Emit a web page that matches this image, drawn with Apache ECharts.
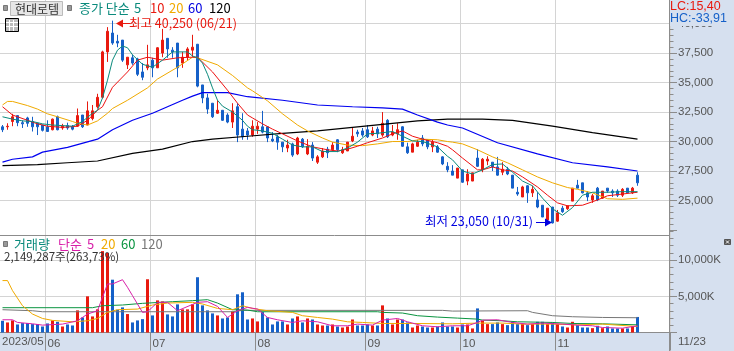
<!DOCTYPE html>
<html>
<head>
<meta charset="utf-8">
<style>
html, body { margin: 0; padding: 0; background: #d6e0ef; }
#chart { width: 734px; height: 351px; }
</style>
<script src="https://cdn.jsdelivr.net/npm/echarts@6/dist/echarts.min.js"></script>
</head>
<body>
<div id="chart"></div>
<script>
// [open, close, low, high]
var candles = [
	[31250,31000,30800,31400],[31250,31300,31000,31550],[31700,32100,31300,32350],[32200,31600,31300,32200],
	[31600,31500,31150,31800],[32000,31550,31250,32100],[31700,31250,30850,32100],[31550,31250,30550,31550],
	[31400,30950,30850,31400],[31250,30850,30850,31800],[31000,31900,30950,31950],[32100,31000,30950,32200],
	[31150,31300,31000,31500],[31350,31150,31000,31600],[31250,31050,30950,31400],[31300,32200,31250,32800],
	[32250,31250,31150,32250],[31400,32600,31400,33400],[31950,32600,31800,33100],[32950,33750,32800,34050],
	[33750,37600,33650,37700],[37600,39350,36750,39700],[39200,38350,38200,40250],[38500,38350,38000,39050],
	[38600,36900,36750,38600],[36500,37150,36150,37150],[37100,36650,36500,37350],[37000,35700,35550,37100],
	[35900,35450,35200,36650],[36250,36500,36050,38200],[36900,36250,35450,37100],[36250,37950,36250,38000],
	[37500,38600,37150,39550],[38750,37850,37100,38750],[37750,37600,37100,38000],[38350,36250,35450,38350],
	[36650,37150,36250,37600],[37150,37850,36900,38000],[37750,38000,37150,39050],[38250,34700,34600,38250],
	[34800,33700,33250,34800],[33700,32750,32350,34050],[33250,32100,32000,33250],[32400,32650,32350,33500],
	[32650,31800,31750,32650],[32250,31650,31550,32400],[31650,32600,31150,33250],[32950,30550,29950,33250],
	[31050,30400,30150,32400],[30900,30550,30150,31150],[30550,31300,30400,31800],[31050,31300,30650,31650],
	[31250,30800,30700,32600],[31250,30300,29950,31250],[30200,30050,29950,30800],[30400,29950,29300,30550],
	[29950,29550,29100,29950],[29450,29700,29100,30150],[29800,28850,28700,29900],[28950,30300,28850,30400],
	[30200,29550,29450,30300],[28950,29600,28850,30200],[29700,28600,28350,29950],[28250,28700,28100,28850],
	[28700,29200,28600,29450],[29350,29050,28600,29550],[29300,29700,29200,29950],[30150,29300,29100,30200],
	[29050,29300,28950,29550],[29200,29950,29200,29950],[30050,30450,29950,31150],[30800,30650,30400,31000],
	[30900,30550,30400,31150],[31000,30400,30300,31400],[30550,30900,30450,31250],[31050,30650,30300,31250],
	[30550,31550,30400,32500],[31800,30400,30300,31900],[30550,30800,30450,31400],[30650,31000,30150,31550],
	[31250,29600,29550,31300],[29550,29050,28950,29900],[29100,29800,29100,29900],[29600,29950,29550,30150],
	[30300,29800,29600,30550],[30150,29550,29350,30200],[29550,29950,29100,30150],[29550,29100,29050,29700],
	[28700,28100,28000,28750],[27900,27600,27400,28250],[27500,27150,27150,28000],[26900,27750,26900,27750],
	[27600,26550,26500,27600],[26650,27250,26300,27650],[26650,27350,26650,27350],[28600,27900,27850,29350],
	[27600,28500,27400,28600],[28350,28500,28000,28750],[28250,27850,27500,28250],[27850,27150,27100,28700],
	[27400,27650,27150,28250],[27650,27250,27150,27850],[27150,26050,26050,27150],[25700,25550,25400,26150],
	[25300,26150,25300,26250],[26250,25650,24800,26300],[25650,25950,25300,26250],[25050,24450,24350,25700],
	[24600,23600,23600,24600],[23350,24350,23200,24350],[24450,23100,23050,24450],[23250,23950,23200,24200],
	[24350,24050,23950,24550],[24300,24550,24200,24550],[24950,26050,24950,26050],[26300,26050,26050,26750],
	[26500,25650,25600,26500],[25650,25300,24950,25800],[25050,25400,24800,25550],[26050,25050,24950,26150],
	[25200,25800,25150,25800],[26050,25800,25650,26050],[25800,25650,25300,25950],[25800,25450,25300,25950],
	[25450,25950,25300,26050],[26050,25650,25650,26050],[25650,26050,25550,26150],[27150,26500,26250,27400]
];

// 거래량 (K)
var volumes = [
	1620,1390,1670,1110,1300,1300,1160,1160,830,1250,1670,1480,830,1110,970,3060,
	2080,5000,2220,3200,11250,11000,7300,3150,3470,2550,1390,1670,1850,7360,2360,4440,
	4300,2500,2220,3890,3200,3200,3890,7640,3750,3060,2640,2360,1940,2080,2920,5280,
	5560,1800,1940,1530,2820,2080,1110,1530,1530,1110,1940,2220,1390,1940,1800,1110,
	970,970,1110,830,690,830,1800,970,970,1110,970,970,3750,1940,1110,1800,
	1800,1390,690,970,830,690,690,830,1390,830,830,690,1110,1110,560,3330,
	1620,1160,1160,1390,1160,1020,1480,1160,1160,1020,1160,1480,1480,1160,1390,1200,
	830,690,1480,1020,690,690,600,930,600,830,560,560,560,560,830,2149
];

// moving averages as [bar index, value]
var ma5 = [[0,32100],[2,31900],[4,31750],[6,31700],[8,31500],[10,31400],[12,31350],[14,31300],[16,31700],[18,32400],[19,32650],[20,33700],[21,35200],[22,36900],[23,37750],[24,38100],[25,37950],[26,37350],[28,36550],[30,36300],[32,36900],[34,37600],[37,37600],[38,37250],[39,37100],[40,36650],[41,35700],[42,34550],[43,33500],[44,33000],[46,32500],[48,31800],[49,31300],[50,31000],[52,30900],[54,30700],[56,30200],[58,29700],[60,29550],[62,29550],[64,29150],[67,29150],[69,29450],[71,29950],[73,30650],[75,30700],[78,30850],[80,30450],[82,30050],[84,30000],[87,29550],[89,28750],[90,28450],[92,27500],[94,27250],[96,27600],[98,28050],[100,28100],[102,27400],[104,26650],[106,26250],[108,25200],[110,24300],[112,23750],[114,24400],[116,25450],[118,25700],[121,25700],[124,25750],[127,25750]];
var ma10 = [[0,32950],[2,32250],[5,31800],[7,31500],[9,31300],[12,31200],[15,31300],[17,31800],[19,32650],[20,32950],[22,34600],[25,35900],[27,36900],[29,37150],[32,36900],[35,37100],[38,37150],[39,37150],[42,35900],[45,34350],[47,33250],[49,32250],[50,32000],[52,31500],[54,31050],[56,30650],[59,30050],[62,29550],[65,29300],[67,29200],[69,29350],[71,29600],[73,29900],[76,30300],[78,30650],[80,30900],[82,30450],[84,30200],[87,29900],[89,29600],[90,29300],[92,28600],[95,27600],[96,27600],[98,27850],[100,27600],[102,27500],[104,27000],[107,26150],[109,25450],[111,24800],[113,24550],[116,24600],[119,25050],[121,25400],[124,25550],[127,25700]];
var ma20 = [[0,33100],[1,33400],[2,33400],[5,33050],[7,32750],[9,32350],[11,32100],[14,31700],[15,31550],[17,31400],[19,31750],[21,32400],[22,32800],[25,33500],[29,34550],[31,35300],[35,36300],[38,37150],[39,37100],[43,36500],[46,35600],[49,34550],[50,34300],[53,33450],[56,32350],[59,31400],[61,30900],[64,30300],[66,29950],[69,29700],[72,29650],[75,29800],[78,30000],[81,30000],[84,30200],[87,30150],[89,30000],[90,29950],[92,29800],[95,29300],[98,28700],[101,28200],[104,27600],[107,27000],[110,26500],[113,26100],[115,25950],[118,25650],[121,25150],[124,25100],[127,25200]];
var ma60 = [[0,28250],[2,28500],[6,28700],[8,29100],[13,29500],[19,30200],[22,31000],[26,31800],[30,32400],[36,33500],[38,33850],[40,34150],[45,34150],[49,33800],[56,33500],[63,33100],[70,32950],[76,32850],[80,32750],[83,32250],[87,31650],[89,31400],[92,31150],[99,29900],[107,28950],[114,28200],[121,27850],[127,27500]];
var ma120 = [[0,27950],[7,28050],[13,28200],[19,28350],[26,29000],[32,29350],[38,30000],[42,30200],[49,30450],[56,30700],[63,30900],[70,31200],[76,31450],[83,31750],[89,31900],[96,31900],[102,31800],[110,31300],[118,30750],[127,30200]];

var volMa5 = [[0,1760],[2,1760],[3,1390],[6,1200],[8,1020],[12,1160],[15,1620],[17,2550],[19,3010],[21,6710],[22,6710],[24,7300],[25,6250],[26,5090],[28,2780],[29,2870],[31,4170],[33,4170],[35,3010],[39,4170],[41,4260],[43,3610],[45,2080],[47,3010],[49,3470],[51,3240],[53,2080],[55,1760],[58,1390],[60,1620],[63,1480],[66,930],[69,930],[71,1160],[74,1020],[76,1710],[79,1940],[81,1480],[84,930],[87,790],[90,930],[93,930],[95,1390],[96,1710],[99,1760],[102,1390],[105,1160],[108,1300],[112,1160],[115,1020],[118,930],[120,690],[124,600],[127,930]];
var volMa20 = [[0,7180],[1,7180],[2,5790],[4,3700],[6,2550],[8,1940],[10,1670],[14,1480],[17,1620],[19,1940],[21,2780],[23,3150],[27,3240],[30,3800],[33,4070],[38,4170],[40,3940],[43,3330],[46,3150],[48,3700],[50,3330],[53,3010],[58,2780],[60,2320],[63,2080],[66,1850],[69,1480],[72,1390],[76,1250],[82,1250],[90,1200],[95,1300],[100,1300],[104,1160],[110,1160],[115,1060],[120,1160],[127,830]];
var volMa60 = [[0,3430],[18,3430],[20,3700],[24,3800],[28,4030],[34,4260],[38,4400],[41,4540],[43,4070],[46,3150],[49,3100],[51,2870],[75,2870],[76,2780],[80,2690],[83,2320],[87,2130],[91,1990],[95,1850],[96,1710],[100,1620],[103,1480],[110,1390],[114,1250],[120,1200],[127,1060]];
var volMa120 = [[0,3150],[6,3010],[8,2870],[46,2870],[48,3060],[88,3060],[90,2960],[105,3010],[106,2780],[110,2320],[114,2180],[120,2080],[127,2040]];

// month labels on the time axis, by bar index
var monthIndex = [9, 30, 51, 73, 92, 111];
var monthLabels = ['06', '07', '08', '09', '10', '11'];
var firstDate = '2023/05';
var lastDate = '11/23';
var barCount = 134; // room left of the price axis after the last bar

var categories = [];
for (var i = 0; i < barCount; i++) {
	var m = monthIndex.indexOf(i);
	categories.push(m >= 0 ? monthLabels[m] : String(i));
}

var RED = '#e8190f', BLUE = '#1560c8', TEAL = '#0a8a7c', ORANGE = '#f0aa00';
var GRID = '#d4d4d4', AXIS = '#8c8c8c', TEXT = '#555';
var KR = '"Noto Sans CJK KR", sans-serif';
var NUM = '"Liberation Sans", sans-serif';

function isMonthCb(index) { return monthIndex.indexOf(index) >= 0; }
function comma(v) { return String(v).replace(/\B(?=(\d{3})+$)/g, ','); }

function lineSeries(name, data, color, axisIndex, width) {
	return {
		name: name, type: 'line', data: data,
		xAxisIndex: axisIndex, yAxisIndex: axisIndex,
		showSymbol: false, symbol: 'none', silent: true,
		lineStyle: {color: color, width: width || 1}
	};
}

function txt(text, x, y, color, size, family) {
	return {type: 'text', z: 50, silent: true, style: {text: text, x: x, y: y, fill: color, font: size + 'px ' + (family || KR), verticalAlign: 'middle'}};
}
function box(x, y, w, h, fill, stroke) {
	return {type: 'rect', z: 40, silent: true, shape: {x: x, y: y, width: w, height: h}, style: {fill: fill, stroke: stroke || null, lineWidth: 1}};
}
function tri(points, color) {
	return {type: 'polygon', z: 50, silent: true, shape: {points: points}, style: {fill: color}};
}
function seg(x1, y1, x2, y2, color) {
	return {type: 'line', z: 45, silent: true, shape: {x1: x1, y1: y1, x2: x2, y2: y2}, style: {stroke: color, lineWidth: 1}};
}

var graphics = [
	{type: 'rect', z: -10, silent: true, shape: {x: 0, y: 0, width: 669, height: 333}, style: {fill: '#fff'}},
	seg(0, 235.5, 669, 235.5, AXIS),
	seg(669.5, 0, 669.5, 351, AXIS),
	// header
	box(3.5, 5.5, 4, 5, '#999', '#777'),
	box(10.5, 1.5, 52, 14, '#e6e6e6', '#bbb'),
	txt('현대로템', 15, 9, '#333', 12),
	box(67.5, 5.5, 4, 5, '#999', '#777'),
	txt('종가 단순', 79, 8, TEAL, 13),
	txt('5', 134, 8, TEAL, 13),
	txt('10', 150, 8, RED, 13),
	txt('20', 169, 8, ORANGE, 13),
	txt('60', 188, 8, '#0000e0', 13),
	txt('120', 209, 8, '#000', 13),
	// table icon
	box(5.5, 18.5, 13, 13, '#bbb', '#000'),
	seg(6, 22.5, 18, 22.5, '#fff'), seg(6, 26.5, 18, 26.5, '#fff'),
	seg(9.5, 20, 9.5, 31, '#fff'), seg(13.5, 20, 13.5, 31, '#fff'),
	// high / low notes
	tri([[116, 23.5], [123, 19.5], [123, 27.5]], RED),
	seg(122, 23.5, 130, 23.5, RED),
	txt('최고 40,250 (06/21)', 129, 23, RED, 12.5),
	txt('최저 23,050 (10/31)', 425, 221, '#0000e0', 12.5),
	seg(536, 222.5, 546, 222.5, '#0000e0'),
	tri([[552, 222.5], [545, 218.5], [545, 226.5]], '#0000e0'),
	// volume header
	box(3.5, 241.5, 4, 5, '#999', '#777'),
	txt('거래량', 14, 244, TEAL, 13),
	txt('단순', 58, 244, '#d81fa8', 13),
	txt('5', 87, 244, '#d81fa8', 13),
	txt('20', 101, 244, ORANGE, 13),
	txt('60', 121, 244, '#0a9440', 13),
	txt('120', 141, 244, '#777', 13),
	txt('2,149,287주(263,73%)', 4, 257, '#333', 11.5),
	// right side
	box(670, 0, 64, 26, '#d6e0ef'),
	txt('LC:15,40', 670, 7, RED, 12.5, NUM),
	txt('HC:-33,91', 670, 19, BLUE, 12.5, NUM),
	box(724.5, 239.5, 6, 5, '#555', '#555'),
	seg(726, 240.5, 729, 243.5, '#fff'), seg(729, 240.5, 726, 243.5, '#fff'),
	txt(firstDate, 2, 342, TEXT, 11.5, NUM),
	txt(lastDate, 678, 342, TEXT, 11.5, NUM)
];

var option = {
	animation: false,
	backgroundColor: 'transparent',
	tooltip: {show: false},
	grid: [
		{left: 0, top: 0, width: 670, height: 230},
		{left: 0, top: 230, width: 670, height: 102.5}
	],
	xAxis: [{
		type: 'category', gridIndex: 0, data: categories,
		axisLine: {show: false}, axisTick: {show: false}, axisLabel: {show: false},
		splitLine: {show: true, interval: isMonthCb, lineStyle: {color: GRID, width: 1}}
	}, {
		type: 'category', gridIndex: 1, data: categories,
		axisLine: {lineStyle: {color: AXIS}},
		axisTick: {show: true, interval: isMonthCb, length: 18, lineStyle: {color: AXIS}},
		axisLabel: {interval: isMonthCb, align: 'left', margin: 4, color: TEXT, fontSize: 11.5, fontFamily: NUM, lineHeight: 14},
		splitLine: {show: true, interval: isMonthCb, lineStyle: {color: GRID, width: 1}}
	}],
	yAxis: [{
		type: 'value', gridIndex: 0, position: 'right', scale: true,
		min: 22500, max: 42000, interval: 2500,
		axisLine: {show: false},
		axisTick: {show: true, length: 7, lineStyle: {color: AXIS}},
		minorTick: {show: true, splitNumber: 5, length: 3.5, lineStyle: {color: AXIS}},
		axisLabel: {margin: 8, color: TEXT, fontSize: 11.5, fontFamily: NUM,
			formatter: function(v) { return v > 40000 || v < 25000 ? '' : comma(v); }},
		splitLine: {show: true, showMinLine: false, showMaxLine: false, lineStyle: {color: GRID, width: 1}}
	}, {
		type: 'value', gridIndex: 1, position: 'right',
		min: 0, max: 14170, interval: 5000,
		axisLine: {show: false},
		axisTick: {show: true, length: 7, lineStyle: {color: AXIS}},
		minorTick: {show: true, splitNumber: 5, length: 3.5, lineStyle: {color: AXIS}},
		axisLabel: {margin: 8, color: TEXT, fontSize: 11.5, fontFamily: NUM,
			formatter: function(v) { return v === 0 || v > 10000 ? '' : comma(v) + 'K'; }},
		splitLine: {show: true, showMaxLine: false, lineStyle: {color: GRID, width: 1}}
	}],
	series: [
		{
			type: 'bar', name: 'volume', data: volumes, xAxisIndex: 1, yAxisIndex: 1,
			barWidth: 3, silent: true,
			itemStyle: {color: function(p) {
				var c = candles[p.dataIndex];
				return c[1] >= c[0] ? RED : BLUE;
			}}
		},
		lineSeries('volMa120', volMa120, '#777', 1),
		lineSeries('volMa60', volMa60, '#0a9440', 1),
		lineSeries('volMa20', volMa20, ORANGE, 1),
		lineSeries('volMa5', volMa5, '#d81fa8', 1),
		{
			type: 'candlestick', name: 'price', data: candles, xAxisIndex: 0, yAxisIndex: 0,
			barWidth: 3, silent: true,
			itemStyle: {color: RED, color0: BLUE, borderColor: RED, borderColor0: BLUE, borderWidth: 1}
		},
		lineSeries('ma120', ma120, '#000', 0, 1.2),
		lineSeries('ma60', ma60, '#0000f0', 0, 1.2),
		lineSeries('ma20', ma20, ORANGE, 0),
		lineSeries('ma10', ma10, '#ee1010', 0),
		lineSeries('ma5', ma5, TEAL, 0)
	],
	graphic: graphics
};

var chart = echarts.init(document.getElementById('chart'), null, {renderer: 'canvas'});
chart.setOption(option);
</script>
</body>
</html>
